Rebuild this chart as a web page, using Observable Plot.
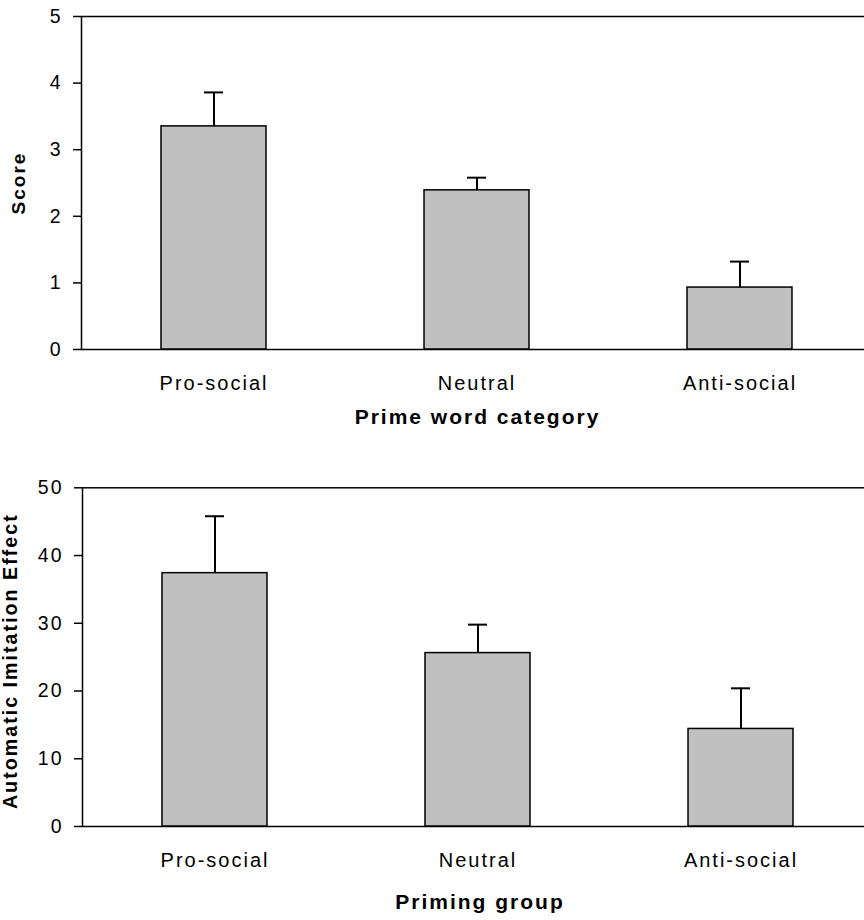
<!DOCTYPE html>
<html>
<head>
<meta charset="utf-8">
<script src="https://cdn.jsdelivr.net/npm/d3@7"></script>
<script src="https://cdn.jsdelivr.net/npm/@observablehq/plot@0.6"></script>
<style>
  html, body { margin: 0; padding: 0; background: white; overflow: hidden; }
  #chart svg { display: block; overflow: visible; }
  #chart text { letter-spacing: 2px; }
</style>
</head>
<body>
<div id="chart"></div>
<script>
const categories = ["Pro-social", "Neutral", "Anti-social"];
const scoreMeans = [3.35, 2.39, 0.93];
const scoreErrors = [0.51, 0.19, 0.39];
const scoreTicks = [0, 1, 2, 3, 4, 5];
const imitationMeans = [37.4, 25.6, 14.4];
const imitationErrors = [8.4, 4.2, 6.0];
const imitationTicks = [0, 10, 20, 30, 40, 50];

function panel({means, errors, ticks, yLabel, xLabel, height, marginTop, marginBottom, marginLeft, yLabelDx, yLabelDy, yLabelSize, xLabelDy, xLabelDx}) {
  const data = categories.map((c, i) => ({cat: c, mean: means[i], top: means[i] + errors[i]}));
  const step = 263.5;
  return Plot.plot({
    width: 864,
    height,
    marginTop,
    marginBottom,
    marginLeft,
    marginRight: -3,
    style: {fontFamily: "'Liberation Sans', Arial, sans-serif", color: "black", background: "white", overflow: "visible"},
    x: {type: "band", domain: categories, range: [marginLeft, marginLeft + 3 * step], paddingInner: 0.6, paddingOuter: 0.3, label: null},
    y: {domain: [ticks[0], ticks[ticks.length - 1]], label: null},
    marks: [
      Plot.frame({stroke: "black", strokeWidth: 1.5}),
      Plot.ruleX(data, {x: "cat", y1: "mean", y2: "top", stroke: "black", strokeWidth: 2}),
      Plot.tickY(data, {x: "cat", y: "top", stroke: "black", strokeWidth: 2, insetLeft: 43, insetRight: 43}),
      Plot.barY(data, {x: "cat", y: "mean", fill: "#c0c0c0", stroke: "black", strokeWidth: 1.5}),
      Plot.axisY({ticks, tickSize: 8, tickPadding: 11, fontSize: 19.5, strokeWidth: 1.5, label: null, tickFormat: d => String(d)}),
      Plot.axisX({tickSize: 0, tickPadding: 26, fontSize: 20, label: null}),
      Plot.text([yLabel], {text: d => d, frameAnchor: "left", textAnchor: "middle", rotate: -90, dx: yLabelDx, dy: yLabelDy, fontSize: yLabelSize, fontWeight: "bold", lineAnchor: "middle"}),
      Plot.text([xLabel], {text: d => d, frameAnchor: "bottom", textAnchor: "middle", dx: xLabelDx, dy: xLabelDy, fontSize: 21, fontWeight: "bold", lineAnchor: "middle"})
    ]
  });
}

const chart = document.getElementById("chart");
chart.append(panel({
  means: scoreMeans, errors: scoreErrors, ticks: scoreTicks,
  yLabel: "Score", xLabel: "Prime word category",
  height: 450, marginTop: 16, marginBottom: 101, marginLeft: 81,
  yLabelDx: -62.5, yLabelDy: 0, yLabelSize: 19, xLabelDy: 68, xLabelDx: 3
}));
chart.append(panel({
  means: imitationMeans, errors: imitationErrors, ticks: imitationTicks,
  yLabel: "Automatic Imitation Effect", xLabel: "Priming group",
  height: 470, marginTop: 37.3, marginBottom: 94, marginLeft: 82,
  yLabelDx: -71.5, yLabelDy: 4, yLabelSize: 19.7, xLabelDy: 76, xLabelDx: 5
}));
</script>
</body>
</html>
